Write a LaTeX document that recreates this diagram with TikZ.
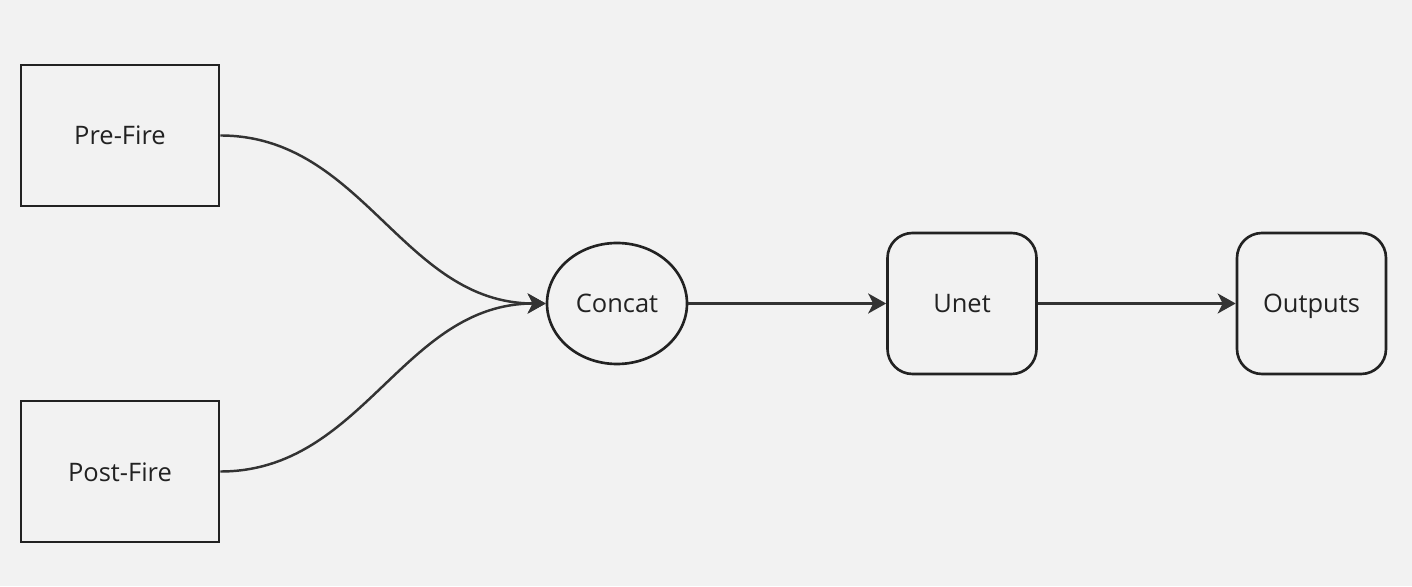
\documentclass[tikz,border=0pt]{standalone}
\usepackage{fontspec}
\setmainfont{Open Sans}
\usepackage{tikz}
\usetikzlibrary{shapes.geometric, arrows.meta}

\definecolor{bgcol}{HTML}{F2F2F2}
\definecolor{linecol}{HTML}{222222}
\definecolor{arrcol}{HTML}{333333}

\begin{document}
\begin{tikzpicture}
        % Define the styles for the blocks
        \tikzset{lbl/.style={font=\fontsize{14.5}{17}\selectfont, text=linecol, text height=0.38cm, text depth=0pt}}
        \tikzstyle{inbox}=[rectangle, draw=linecol, line width=1.5pt, minimum width=3.96cm, minimum height=2.82cm, inner sep=0pt, lbl]
        \tikzstyle{opnode}=[ellipse, draw=linecol, line width=1.5pt, minimum width=2.8cm, minimum height=2.42cm, inner sep=0pt, lbl]
        \tikzstyle{netbox}=[rectangle, rounded corners=0.5cm, draw=linecol, line width=1.5pt, minimum width=2.98cm, minimum height=2.82cm, inner sep=0pt, lbl]
        \tikzstyle{flow}=[draw=arrcol, line width=1.4pt, -{Stealth[length=0.36cm, width=0.4cm, inset=0.1cm]}]

        % Background and bounding box
        \fill[bgcol] (0,0) rectangle (28.24,11.72);
        \useasboundingbox (0,0) rectangle (28.24,11.72);

        % Define the nodes
        \node[inbox] (pre) at (2.40,9.01) {Pre-Fire};
        \node[inbox] (post) at (2.40,2.29) {Post-Fire};
        \node[opnode] (concat) at (12.34,5.65) {Concat};
        \node[netbox] (unet) at (19.24,5.65) {Unet};
        \node[netbox] (out) at (26.23,5.65) {Outputs};

        % Define the arrows
        \draw[flow] (pre.east) to[out=0, in=180] (concat.west);
        \draw[flow] (post.east) to[out=0, in=180] (concat.west);
        \draw[flow] (concat) -- (unet);
        \draw[flow] (unet) -- (out);
    \end{tikzpicture}
\end{document}
